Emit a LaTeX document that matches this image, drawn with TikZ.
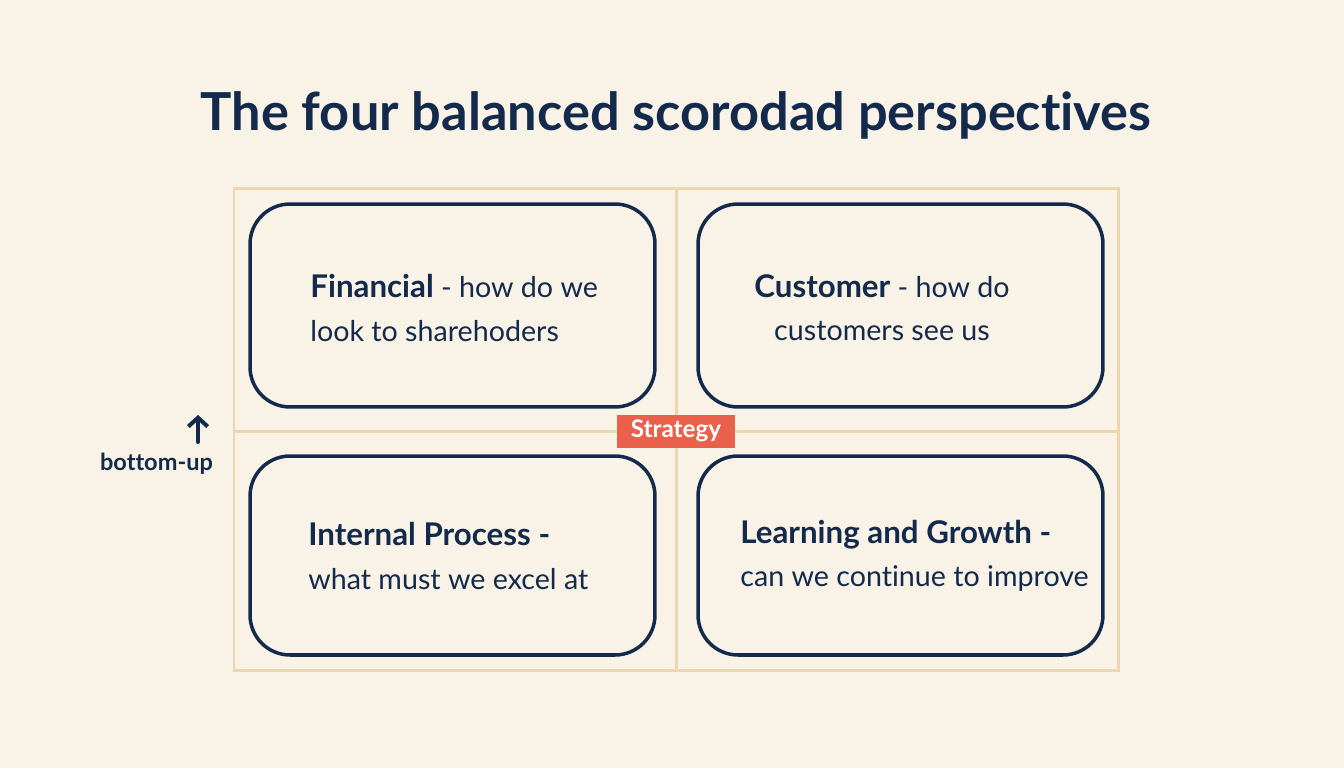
\documentclass[tikz,border=0pt]{standalone}
\usepackage{fontspec}
\setmainfont{Lato}[Ligatures=CommonOff]
\usetikzlibrary{arrows.meta,positioning}
\definecolor{bgcream}{HTML}{F8F3E6}
\definecolor{navy}{HTML}{142A4C}
\definecolor{gridtan}{HTML}{ECD6AE}
\definecolor{tagred}{HTML}{E9604B}
\newcommand{\cardhead}[1]{{\fontsize{17.8}{24.5}\selectfont\bfseries #1}}

\begin{document}
\begin{tikzpicture}[x=0.02cm, y=-0.02cm, >={Straight Barb[length=5pt,width=11pt]},
    card/.style={draw=navy, line width=2pt, rounded corners=0.8cm, minimum width=8.1cm},
    cardtext/.style={text=navy, font=\fontsize{16.3}{24.5}\selectfont, inner sep=0pt},
    gridline/.style={draw=gridtan, line width=1.7pt}]

    %% Background
    \fill[bgcream] (0,0) rectangle (1344,768);

  % Title
  \node[text=navy, font=\fontsize{29.8}{36}\selectfont\bfseries] (title) at (676,115) {The four balanced scorodad perspectives};

  % Grid
  \draw[gridline] (234,188) rectangle (1118,670);
  \draw[gridline] (676,188) -- (676,670);
  \draw[gridline] (234,431) -- (1118,431);

  % Cards
  \node[card, minimum height=4.06cm] (fin) at (452.5,305.5) {};
  \node[card, minimum height=4.06cm] (cust) at (900.5,305.5) {};
  \node[card, minimum height=3.98cm] (intl) at (452.5,555.5) {};
  \node[card, minimum height=3.98cm] (learn) at (900.5,555.5) {};

  % Card texts
  \node[cardtext, anchor=west, align=left] (fintext) at (310,308) {\cardhead{Financial} - how do we\\look to sharehoders};
  \node[cardtext, align=center] (custtext) at (882,308) {\cardhead{Customer} - how do\\customers see us};
  \node[cardtext, anchor=west, align=left] (intltext) at (308,556) {\cardhead{Internal Process -}\\what must we excel at};
  \node[cardtext, anchor=west, align=left] (learntext) at (740,556) {\cardhead{Learning and Growth -}\\can we continue to improve};

  % Strategy tag
  \node[fill=tagred, text=white, font=\fontsize{13.8}{16}\selectfont\bfseries, minimum width=2.36cm, minimum height=0.66cm, inner sep=0pt] (strat) at (676,431) {Strategy};

  % bottom-up
  \node[text=navy, font=\fontsize{13.4}{16}\selectfont\bfseries] (bu) at (156.5,464) {bottom-up};
  \coordinate (arrowbot) at (198,442);
  \coordinate (arrowtop) at (198,415);
  \draw[->, navy, line width=2.3pt, line cap=round] (arrowbot) -- (arrowtop);

\end{tikzpicture}
\end{document}
